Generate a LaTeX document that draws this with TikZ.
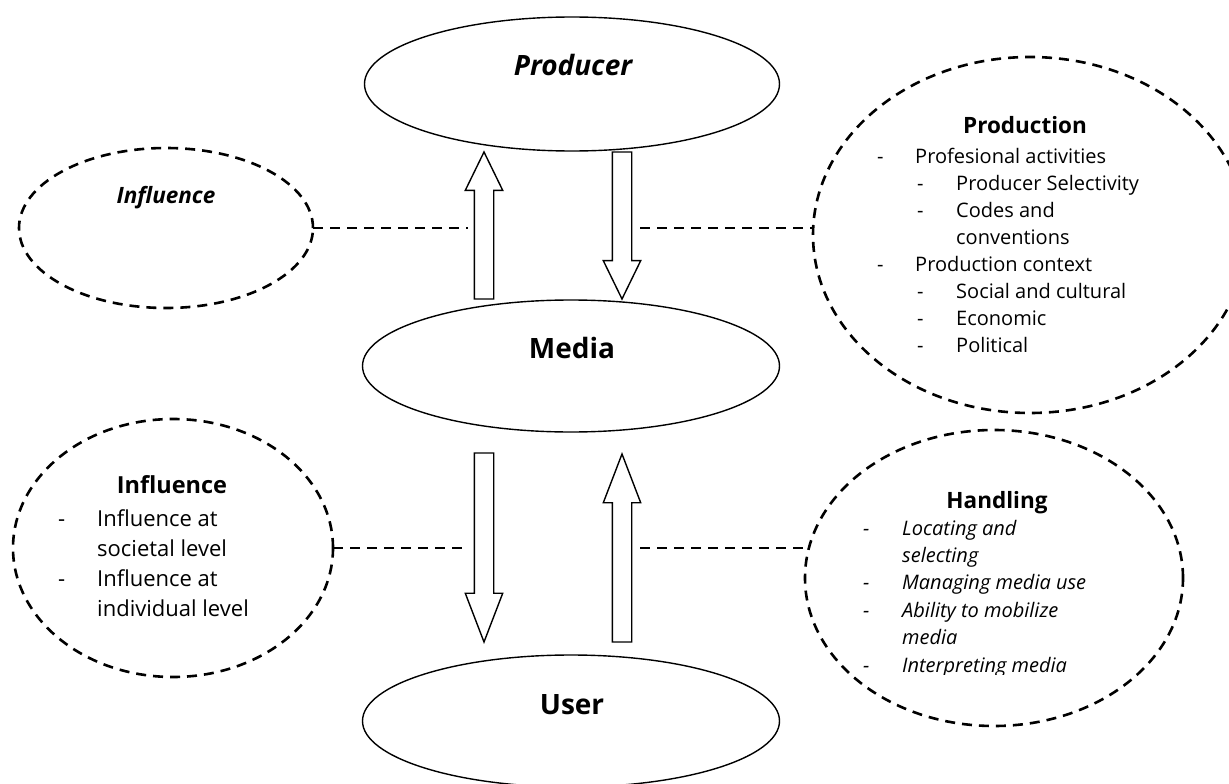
\documentclass[tikz,border=0pt]{standalone}
\usepackage{fontspec}
\setmainfont{Open Sans}
\usetikzlibrary{
	shapes.geometric,   % ellipse
	shapes.arrows,      % single arrow
	calc
}
\tikzset{
	stage/.style={ellipse,draw,fill=white,line width=1.4pt,inner sep=0pt,outer sep=0pt},
	stagetext/.style={anchor=base,font=\fontsize{28}{34}\selectfont\bfseries},
	aspect/.style={ellipse,draw,line width=2.6pt,dash pattern=on 10pt off 7pt,inner sep=0pt,outer sep=0pt},
	aspecttitle/.style={anchor=base,font=\fontsize{22.5}{27}\selectfont\bfseries},
	link/.style={line width=2.6pt,dash pattern=on 10pt off 7pt},
	flow/.style={single arrow,draw,fill=white,line width=1.4pt,inner xsep=0pt,inner ysep=9pt,
		outer sep=0pt,minimum width=0pt,single arrow head extend=9pt,single arrow head indent=0pt,anchor=tip},
	listtext/.style={anchor=base west,inner sep=0pt}
}
% list lines: dash, then text
\newcommand{\itm}[2][38pt]{\makebox[#1][l]{-}#2}
\newcommand{\subitm}[1]{\hspace*{40pt}\makebox[39pt][l]{-}#1}

\begin{document}
\begin{tikzpicture}[x=1pt,y=-1pt]
\useasboundingbox (0,0) rectangle (1229,784);
\clip (0,0) rectangle (1229,784);

% the three stages
\node[stage,minimum width=415pt,minimum height=134pt] (producer) at (572,84) {};
\node[stage,minimum width=417pt,minimum height=132pt] (media) at (571,366) {};
\node[stage,minimum width=417pt,minimum height=132pt] (user) at (571,721) {};
\node[stagetext] (producer-t) at (573,75) {\itshape Producer};
\node[stagetext] (media-t) at (572,358) {Media};
\node[stagetext] (user-t) at (572,714) {User};

% block arrows between the stages, placed by their tips
\node[flow,rotate=90,minimum height=147pt,single arrow tip angle=52] (upA) at (484,152) {};
\node[flow,rotate=-90,minimum height=147pt,single arrow tip angle=52] (downA) at (622,299) {};
\node[flow,rotate=-90,minimum height=189pt,single arrow tip angle=42] (downB) at (484,642) {};
\node[flow,rotate=90,minimum height=188pt,single arrow tip angle=42] (upB) at (622,454) {};

% upper left
\node[aspect,minimum width=294pt,minimum height=160pt] (infl) at (166,228) {};
\node[aspecttitle] (infl-t) at (166,203) {\itshape Influence};

% upper right
\node[aspect,minimum width=434pt,minimum height=356pt] (prod) at (1030,235) {};
\node[aspecttitle] (prod-t) at (1025,133) {Production};
\node[listtext,font=\fontsize{20}{27}\selectfont] (prod-l) at (877,163) {%
	\begin{tabular}[t]{@{}l@{}}
	\itm{Profesional activities}\\
	\subitm{Producer Selectivity}\\
	\subitm{Codes and}\\
	\hspace*{79pt}conventions\\
	\itm{Production context}\\
	\subitm{Social and cultural}\\
	\subitm{Economic}\\
	\subitm{Political}
	\end{tabular}};

% lower left
\node[aspect,minimum width=320pt,minimum height=258pt] (effect) at (173,548) {};
\node[aspecttitle,font=\fontsize{23.5}{28}\selectfont\bfseries] (effect-t) at (172,493) {Influence};
\node[listtext,font=\fontsize{22}{30}\selectfont] (effect-l) at (58,526) {%
	\begin{tabular}[t]{@{}l@{}}
	\itm[39pt]{Influence at}\\
	\hspace*{39pt}societal level\\
	\itm[39pt]{Influence at}\\
	\hspace*{39pt}individual level
	\end{tabular}};

% lower right
\node[aspect,minimum width=378pt,minimum height=296pt] (handle) at (994,578) {};
\node[aspecttitle] (handle-t) at (997,508) {Handling};
\begin{scope}
	\clip (800,400) rectangle (1229,674);
	\node[listtext,font=\fontsize{20}{27.4}\selectfont\itshape] (handle-l) at (863,535) {%
		\begin{tabular}[t]{@{}l@{}}
		\itm[39pt]{Locating and}\\
		\hspace*{39pt}selecting\\
		\itm[39pt]{Managing media use}\\
		\itm[39pt]{Ability to mobilize}\\
		\hspace*{39pt}media\\
		\itm[39pt]{Interpreting media}
		\end{tabular}};
\end{scope}

% dashed links
\draw[link,shorten >=16pt] (infl.east) -- (infl.east -| upA.center);
\draw[link,shorten <=18pt] (infl.east -| downA.center) -- (infl.east -| prod.west);
\draw[link,shorten >=17pt] (effect.east) -- (effect.east -| downB.center);
\draw[link,shorten <=18pt] (effect.east -| upB.center) -- ($(effect.east -| handle.west)+(4,0)$);
\end{tikzpicture}
\end{document}
